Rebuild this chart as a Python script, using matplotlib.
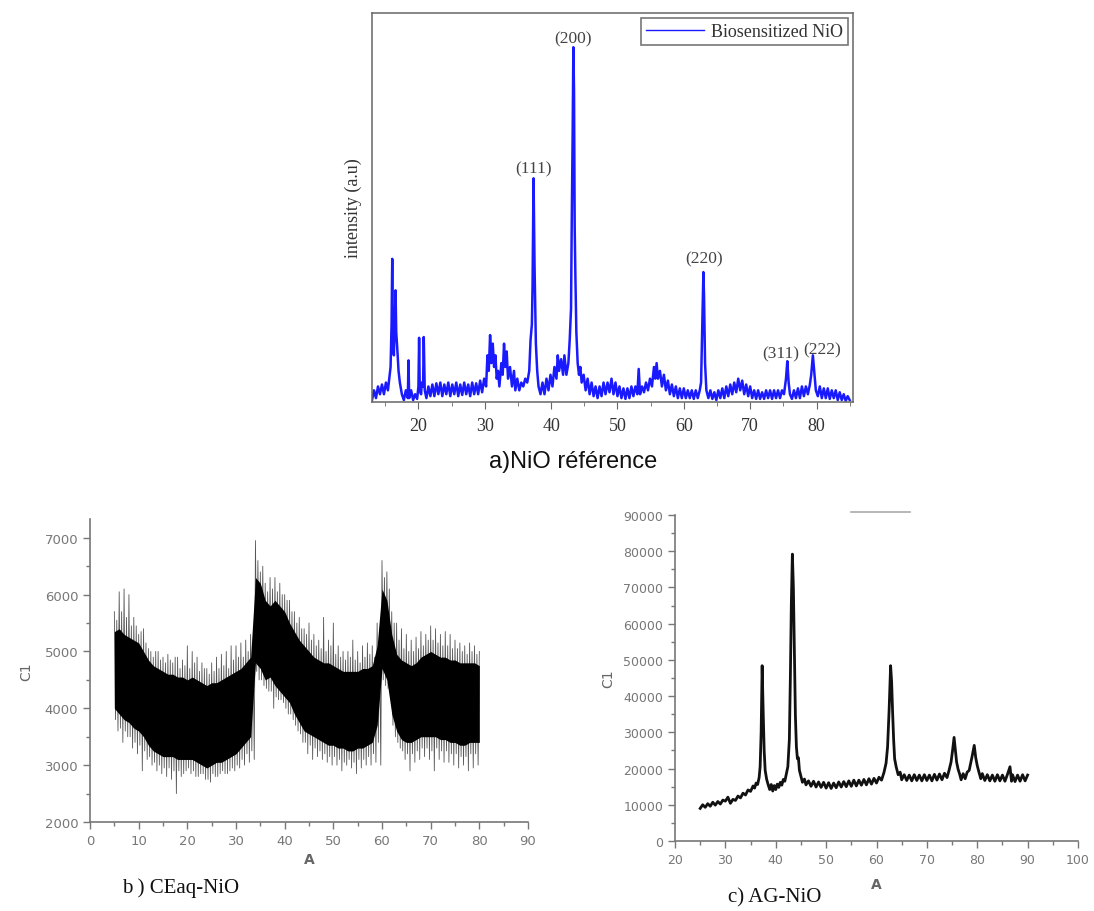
import matplotlib
matplotlib.use("Agg")
import matplotlib.pyplot as plt
from matplotlib.ticker import MultipleLocator, NullLocator
import numpy as np

# ---------------- data ----------------
# a) NiO reference (Biosensitized NiO), 2theta vs intensity (a.u.)
a_two_theta = [
    13.0, 13.3, 13.6, 13.9, 14.2, 14.5, 14.8, 15.1, 15.4, 15.6,
    15.8, 15.95, 16.05, 16.15, 16.3, 16.45, 16.55, 16.65, 16.8, 17.0,
    17.2, 17.5, 17.8, 18.1, 18.4, 18.5, 18.6, 18.9, 19.2, 19.5,
    19.8, 20.0, 20.1, 20.2, 20.4, 20.5, 20.7, 20.8, 20.95, 21.2,
    21.5, 21.8, 22.1, 22.4, 22.7, 23.0, 23.3, 23.6, 23.9, 24.2,
    24.5, 24.8, 25.1, 25.4, 25.7, 26.0, 26.3, 26.6, 26.9, 27.2,
    27.5, 27.8, 28.1, 28.4, 28.7, 29.0, 29.3, 29.6, 29.9, 30.2,
    30.4, 30.6, 30.8, 31.0, 31.2, 31.4, 31.6, 31.8, 32.0, 32.2,
    32.5, 32.7, 32.9, 33.1, 33.3, 33.5, 33.8, 34.1, 34.4, 34.6,
    34.9, 35.2, 35.5, 35.8, 36.1, 36.4, 36.7, 36.9, 37.1, 37.2,
    37.35, 37.5, 37.7, 37.9, 38.1, 38.4, 38.7, 39.0, 39.3, 39.6,
    39.9, 40.2, 40.5, 40.8, 41.0, 41.2, 41.5, 41.8, 42.0, 42.3,
    42.6, 42.8, 43.0, 43.1, 43.25, 43.35, 43.45, 43.55, 43.65, 43.8,
    44.0, 44.2, 44.4, 44.6, 44.9, 45.2, 45.5, 45.8, 46.1, 46.4,
    46.7, 47.0, 47.3, 47.6, 47.9, 48.2, 48.5, 48.8, 49.1, 49.4,
    49.7, 50.0, 50.3, 50.6, 50.9, 51.2, 51.5, 51.8, 52.1, 52.4,
    52.7, 53.0, 53.2, 53.4, 53.7, 54.0, 54.3, 54.6, 54.9, 55.2,
    55.5, 55.7, 55.9, 56.1, 56.4, 56.7, 57.0, 57.3, 57.6, 57.9,
    58.2, 58.5, 58.8, 59.1, 59.4, 59.7, 60.0, 60.3, 60.6, 60.9,
    61.2, 61.5, 61.8, 62.1, 62.4, 62.6, 62.8, 62.95, 63.05, 63.2,
    63.4, 63.7, 64.0, 64.3, 64.6, 64.9, 65.2, 65.5, 65.8, 66.1,
    66.4, 66.7, 67.0, 67.3, 67.6, 67.9, 68.2, 68.5, 68.8, 69.1,
    69.4, 69.7, 70.0, 70.3, 70.6, 70.9, 71.2, 71.5, 71.8, 72.1,
    72.4, 72.7, 73.0, 73.3, 73.6, 73.9, 74.2, 74.5, 74.8, 75.1,
    75.4, 75.6, 75.8, 76.0, 76.3, 76.6, 76.9, 77.2, 77.5, 77.8,
    78.1, 78.4, 78.7, 79.0, 79.2, 79.45, 79.7, 79.9, 80.2, 80.5,
    80.8, 81.1, 81.4, 81.7, 82.0, 82.3, 82.6, 82.9, 83.2, 83.5,
    83.8, 84.1, 84.4, 84.7, 85.0,
]
a_intensity = [
    0.5, 3, 1, 4, 2, 4.5, 2, 5, 3, 6,
    9, 20, 36.8, 15, 12, 22, 28.7, 18, 14, 8,
    5, 2, 0.5, 3, 1, 10.7, 1, 3, 0.5, 2,
    0.8, 4, 16.5, 3, 2, 5, 4, 16.7, 3, 1,
    4, 1.5, 4.5, 1.5, 4.8, 2, 5, 1.5, 4.5, 2,
    5, 1.5, 4.5, 2, 5, 1.5, 4.5, 1.8, 5, 2,
    4.5, 1.5, 5, 2, 4.8, 2, 5.5, 2.5, 6, 4,
    12, 8, 17.2, 10, 15, 9, 12, 6, 8, 4,
    10, 7, 15, 9, 13, 6, 9, 4, 8, 3,
    6, 3, 5, 4, 6, 5, 8, 16, 20, 30,
    57.5, 35, 15, 8, 4, 2, 5, 2, 6, 3,
    7, 4, 9, 6, 12, 8, 11, 7, 12, 7,
    10, 16, 24, 45, 70, 91.2, 80, 45, 33, 18,
    10, 7, 9, 5, 7, 3, 6, 2, 5, 1.5,
    4, 1, 4, 1.5, 5, 2, 5, 2.5, 6, 2,
    5, 1.5, 4, 1, 3.5, 0.8, 3.5, 1, 4, 1.5,
    4, 2, 8.5, 2, 4, 2.5, 5, 3, 6, 4,
    9, 6, 10, 6, 8, 4, 7, 3, 5.5, 2,
    4.5, 1.5, 4, 1, 3.5, 1, 3.5, 1, 3, 1,
    3, 0.8, 3, 1, 3, 5, 22, 33.4, 27, 10,
    3, 1, 3, 0.8, 2.5, 0.5, 3, 1, 3.5, 1,
    4, 1.5, 4.5, 2, 5, 2.5, 6, 3, 5.5, 2,
    4.5, 1.5, 4, 1, 3, 0.8, 3, 0.8, 2.5, 0.8,
    3, 1, 3, 0.8, 3, 1, 3, 1, 3, 2,
    6, 10.5, 5, 2, 0.8, 3, 1, 3.5, 1, 4,
    1.5, 4, 2, 4.5, 7, 12, 7, 3, 1.5, 4,
    1, 3.5, 1, 3.5, 0.8, 3, 1, 3, 0.5, 2.5,
    0.5, 2, 0.3, 1.5, 0.5,
]
a_peak_labels = ["(111)", "(200)", "(220)", "(311)", "(222)"]
a_peak_label_x = [37.35, 43.35, 63.0, 74.6, 80.8]
a_peak_label_y = [60.0, 93.5, 37.0, 12.6, 13.5]

# b) CEaq-NiO : per-degree dense noise band (core) and spike extremes
b_two_theta = list(range(5, 81))
b_core_high = [
    5350, 5400, 5300, 5250, 5200, 5150, 5000, 4850, 4750, 4700,
    4650, 4600, 4600, 4550, 4550, 4500, 4550, 4500, 4450, 4400,
    4450, 4450, 4500, 4550, 4600, 4650, 4700, 4800, 4900, 6300,
    6200, 5900, 5800, 5900, 5800, 5700, 5500, 5350, 5200, 5100,
    5000, 4900, 4850, 4800, 4800, 4750, 4700, 4650, 4650, 4650,
    4650, 4700, 4700, 4750, 5100, 6100, 5900, 5300, 4950, 4850,
    4800, 4750, 4800, 4900, 4950, 5000, 4950, 4900, 4900, 4850,
    4850, 4800, 4800, 4800, 4800, 4750,
]
b_core_low = [
    4000, 3900, 3800, 3750, 3650, 3600, 3500, 3350, 3250, 3200,
    3150, 3150, 3150, 3100, 3100, 3100, 3100, 3050, 3000, 2950,
    3000, 3050, 3050, 3100, 3150, 3200, 3300, 3400, 3500, 4800,
    4700, 4500, 4550, 4400, 4300, 4200, 4100, 3900, 3750, 3600,
    3550, 3500, 3450, 3400, 3350, 3350, 3300, 3300, 3250, 3250,
    3300, 3300, 3350, 3400, 3700, 4700, 4500, 3900, 3600, 3450,
    3400, 3400, 3450, 3500, 3500, 3500, 3500, 3450, 3450, 3400,
    3400, 3350, 3350, 3400, 3400, 3400,
]
b_spike_high = [
    5700, 6050, 6100, 6000, 5600, 5300, 5400, 5050, 4900, 5000,
    4900, 4950, 4800, 4900, 4850, 5100, 5000, 4900, 4800, 4700,
    4800, 4900, 4950, 5000, 5100, 5100, 5150, 5200, 5300, 6950,
    6400, 6200, 6300, 6300, 6200, 6000, 5900, 5700, 5600, 5400,
    5500, 5300, 5200, 5600, 5200, 5500, 5100, 5000, 5000, 5200,
    5000, 5100, 5150, 5100, 5500, 6600, 6400, 5700, 5500, 5400,
    5300, 5200, 5250, 5350, 5300, 5450, 5400, 5300, 5350, 5300,
    5200, 5150, 5100, 5150, 5100, 5000,
]
b_spike_low = [
    3600, 3400, 3500, 3300, 3200, 2900, 3100, 3000, 2900, 2850,
    2800, 2750, 2500, 2800, 2900, 2850, 2800, 2850, 2750, 2700,
    2800, 2850, 2850, 2900, 2900, 2950, 3000, 3050, 3100, 4500,
    4400, 4300, 4000, 4150, 4100, 3900, 3800, 3600, 3400, 3200,
    3100, 3150, 3100, 3050, 3000, 3000, 2900, 3000, 2950, 2850,
    2950, 3000, 3000, 3050, 3000, 4400, 4200, 3500, 3300, 3100,
    2900, 3050, 3100, 3150, 3100, 2900, 3100, 3050, 3050, 3000,
    2950, 3000, 2900, 2950, 3000, 3100,
]
b_mid_high = [
    5550, 5700, 5600, 5450, 5450, 5350, 5150, 5000, 5000, 4850,
    4800, 4850, 4900, 4700, 4750, 4700, 4800, 4650, 4700, 4600,
    4650, 4700, 4750, 4700, 4850, 4900, 4900, 5000, 5100, 6600,
    6500, 6050, 6100, 6050, 6000, 5900, 5700, 5500, 5400, 5300,
    5200, 5100, 5050, 5000, 5100, 4950, 4900, 4850, 4900, 4850,
    4800, 4900, 4950, 4900, 5300, 6300, 6100, 5500, 5200, 5050,
    5000, 5000, 5050, 5100, 5200, 5200, 5150, 5100, 5100, 5050,
    5050, 5000, 4950, 5000, 4950, 4900,
]
b_mid_low = [
    3800, 3650, 3600, 3500, 3400, 3350, 3250, 3150, 3050, 3000,
    2950, 2950, 2900, 2900, 2850, 2950, 2900, 2800, 2850, 2750,
    2850, 2800, 2900, 2850, 2950, 3000, 3100, 3200, 3250, 4650,
    4500, 4350, 4300, 4200, 4150, 4000, 3900, 3700, 3550, 3400,
    3350, 3300, 3250, 3200, 3150, 3150, 3100, 3050, 3100, 3050,
    3100, 3100, 3150, 3200, 3400, 4500, 4350, 3700, 3400, 3250,
    3200, 3200, 3250, 3300, 3300, 3250, 3300, 3250, 3250, 3200,
    3200, 3150, 3150, 3200, 3200, 3250,
]

# c) AG-NiO
c_two_theta = [
    25.0, 25.5, 26.0, 26.5, 27.0, 27.5, 28.0, 28.5, 29.0, 29.5,
    30.0, 30.5, 31.0, 31.5, 32.0, 32.5, 33.0, 33.5, 34.0, 34.5,
    35.0, 35.5, 35.8, 36.1, 36.4, 36.7, 36.9, 37.1, 37.3, 37.5,
    37.7, 37.9, 38.2, 38.5, 38.8, 39.1, 39.4, 39.7, 40.0, 40.3,
    40.6, 40.9, 41.2, 41.5, 41.8, 42.1, 42.4, 42.7, 42.9, 43.1,
    43.3, 43.5, 43.7, 43.9, 44.1, 44.3, 44.5, 44.7, 45.0, 45.3,
    45.7, 46.0, 46.5, 47.0, 47.5, 48.0, 48.5, 49.0, 49.5, 50.0,
    50.5, 51.0, 51.5, 52.0, 52.5, 53.0, 53.5, 54.0, 54.5, 55.0,
    55.5, 56.0, 56.5, 57.0, 57.5, 58.0, 58.5, 59.0, 59.5, 60.0,
    60.5, 61.0, 61.5, 61.9, 62.2, 62.5, 62.8, 63.0, 63.2, 63.4,
    63.6, 63.9, 64.3, 64.7, 65.0, 65.5, 66.0, 66.5, 67.0, 67.5,
    68.0, 68.5, 69.0, 69.5, 70.0, 70.5, 71.0, 71.5, 72.0, 72.5,
    73.0, 73.5, 74.0, 74.4, 74.8, 75.1, 75.4, 75.7, 75.9, 76.2,
    76.5, 76.8, 77.2, 77.6, 78.0, 78.4, 78.7, 79.0, 79.4, 79.7,
    80.0, 80.3, 80.7, 81.0, 81.5, 82.0, 82.5, 83.0, 83.5, 84.0,
    84.5, 85.0, 85.5, 86.0, 86.5, 86.8, 87.0, 87.5, 88.0, 88.5,
    89.0, 89.5, 90.0,
]
c_counts = [
    9000, 10000, 9300, 10300, 9600, 10700, 9900, 10900, 10200, 11300,
    11000, 12100, 10400, 11500, 11200, 12400, 11900, 13200, 12700, 14100,
    13700, 15200, 14600, 16000, 15600, 17500, 20500, 30000, 48400, 36000,
    25000, 19500, 17000, 15500, 14200, 15600, 13800, 15300, 14200, 15700,
    14800, 16200, 15400, 17000, 16500, 18500, 20500, 28000, 45000, 66000,
    79200, 70000, 52000, 34600, 26000, 22700, 23000, 19500, 17800, 16200,
    17100, 15500, 16600, 15100, 16500, 14900, 16300, 14800, 16200, 14600,
    16100, 14500, 16000, 14700, 16300, 14900, 16400, 15000, 16600, 15100,
    16800, 15200, 16800, 15400, 17000, 15500, 17200, 15700, 17300, 16000,
    17600, 16800, 19000, 21500, 26000, 36000, 48400, 44000, 35500, 28000,
    22700, 20500, 18300, 19000, 16900, 18300, 16700, 18200, 16600, 18300,
    16700, 18200, 16600, 18300, 16700, 18200, 16600, 18400, 16800, 18500,
    16900, 18700, 17500, 19500, 21800, 25000, 28600, 24500, 21800, 19800,
    18500, 16900, 18600, 17200, 19000, 19500, 21500, 23500, 26400, 23000,
    20800, 19200, 17200, 18600, 16700, 18300, 16600, 18200, 16500, 18300,
    16600, 18200, 16500, 18400, 20500, 16500, 18300, 16400, 18200, 16500,
    18300, 16600, 18200,
]

# ---------------- figure ----------------
W, H = 1094, 912
fig = plt.figure(figsize=(W / 100, H / 100), dpi=100)
SERIF = ["Liberation Serif", "DejaVu Serif"]
SANS = ["Liberation Sans", "DejaVu Sans"]


def rect(x0, y0, x1, y1):
    return [x0 / W, 1 - y1 / H, (x1 - x0) / W, (y1 - y0) / H]


# ----- panel a -----
ax_a = fig.add_axes(rect(372, 14, 853, 403))
ax_a.plot(a_two_theta, a_intensity, color="#1a1aff", lw=1.8,
          label="Biosensitized NiO")
ax_a.set_xlim(13, 85.5)
ax_a.set_ylim(0, 100)
for s in ax_a.spines.values():
    s.set_color("#666666")
    s.set_linewidth(1.1)
ax_a.xaxis.set_major_locator(MultipleLocator(10))
ax_a.xaxis.set_minor_locator(MultipleLocator(5))
ax_a.yaxis.set_major_locator(NullLocator())
ax_a.tick_params(axis="x", which="both", direction="out", color="#666666",
                 labelsize=13, labelcolor="#333333", pad=6)
ax_a.tick_params(axis="x", which="major", length=5)
ax_a.tick_params(axis="x", which="minor", length=3)
for lab in ax_a.get_xticklabels():
    lab.set_family(SERIF)
ax_a.set_ylabel("intensity (a.u)", family=SERIF, fontsize=13,
                color="#333333", labelpad=7)
for t, x, y in zip(a_peak_labels, a_peak_label_x, a_peak_label_y):
    ax_a.text(x, y, t, ha="center", va="center", family=SERIF,
              fontsize=12.5, color="#444444")
leg = ax_a.legend(loc="upper right", prop={"family": SERIF, "size": 13},
                  frameon=True, fancybox=False, edgecolor="#555555",
                  borderaxespad=0.25, handlelength=3.2, borderpad=0.3,
                  handletextpad=0.4)
leg.get_frame().set_linewidth(1.2)
leg.get_lines()[0].set_linewidth(1.0)
for t in leg.get_texts():
    t.set_color("#333333")

fig.text(573 / W, 1 - 462 / H, "a)NiO référence", ha="center", va="center",
         family=SANS, fontsize=17, color="#111111")


def style_origin(ax, fs):
    for side in ("top", "right"):
        ax.spines[side].set_visible(False)
    for side in ("left", "bottom"):
        ax.spines[side].set_color("#777777")
        ax.spines[side].set_linewidth(1.2)
    ax.tick_params(which="both", direction="out", color="#777777",
                   labelsize=fs, labelcolor="#777777")
    ax.tick_params(which="major", length=5, width=1)
    ax.tick_params(which="minor", length=3, width=1)


# ----- panel b -----
ax_b = fig.add_axes(rect(90, 520, 528, 823))
bx = np.array(b_two_theta, dtype=float)
zig_x = np.ravel(np.column_stack([bx, bx + 0.25, bx + 0.5, bx + 0.75]))
zig_y = np.ravel(np.column_stack([b_spike_high, b_mid_low,
                                  b_mid_high, b_spike_low]))
ax_b.plot(zig_x[:-3], zig_y[:-3], color="#555555", lw=0.6, zorder=1)
ax_b.fill_between(bx, b_core_low, b_core_high, color="black", lw=0,
                  zorder=2)
ax_b.set_xlim(0, 90)
ax_b.set_ylim(2000, 7330)
ax_b.xaxis.set_major_locator(MultipleLocator(10))
ax_b.xaxis.set_minor_locator(MultipleLocator(5))
ax_b.yaxis.set_major_locator(MultipleLocator(1000))
ax_b.yaxis.set_minor_locator(MultipleLocator(500))
style_origin(ax_b, 9.5)
ax_b.set_xlabel("A", fontsize=10, color="#666666", fontweight="bold",
                labelpad=4)
ax_b.set_ylabel("C1", fontsize=10, color="#666666", labelpad=8)
fig.text(122 / W, 1 - 888 / H, "b ) CEaq-NiO", ha="left", va="center",
         family=SERIF, fontsize=15, color="#111111")

# ----- panel c -----
ax_c = fig.add_axes(rect(675, 516, 1078, 842))
ax_c.plot(c_two_theta, c_counts, color="#111111", lw=2.0)
ax_c.set_xlim(20, 100)
ax_c.set_ylim(0, 90000)
ax_c.xaxis.set_major_locator(MultipleLocator(10))
ax_c.xaxis.set_minor_locator(MultipleLocator(5))
ax_c.yaxis.set_major_locator(MultipleLocator(10000))
ax_c.yaxis.set_minor_locator(MultipleLocator(5000))
style_origin(ax_c, 9)
ax_c.set_xlabel("A", fontsize=10, color="#666666", fontweight="bold",
                labelpad=8)
ax_c.set_ylabel("C1", fontsize=10, color="#666666", labelpad=6)
ax_c.plot([0.437, 0.583], [1.01, 1.01], transform=ax_c.transAxes,
          clip_on=False, color="#aaaaaa", lw=1.2)
fig.text(728 / W, 1 - 898 / H, "c) AG-NiO", ha="left", va="center",
         family=SERIF, fontsize=15, color="#111111")

fig.savefig("out.png", dpi=100, facecolor="white")
